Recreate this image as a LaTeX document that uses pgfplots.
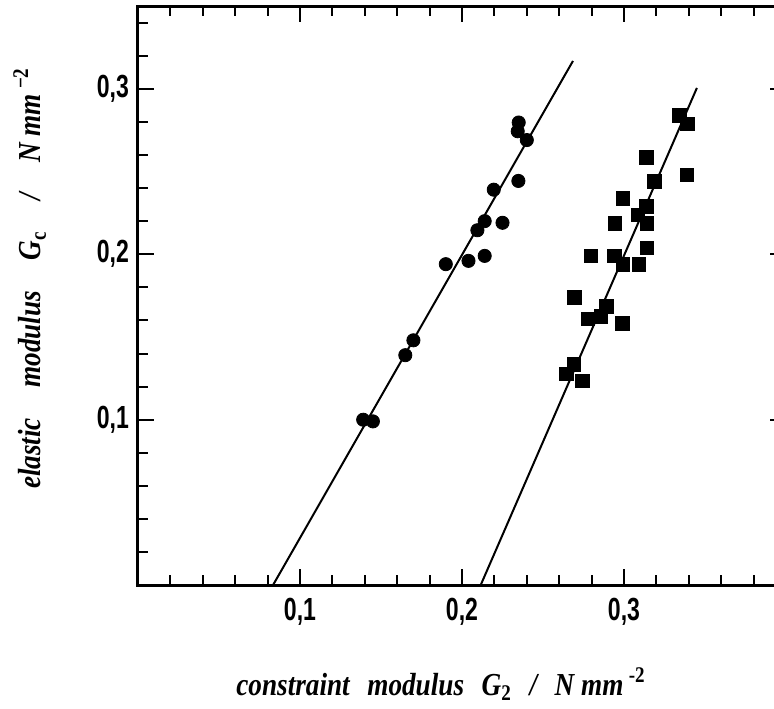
\documentclass[border=0pt]{standalone}
\usepackage{pgfplots}
\pgfplotsset{compat=1.18}
\usepackage{fontspec}
\setmainfont{Liberation Serif}
\newfontfamily\labfont[FakeStretch=0.85]{Liberation Serif}
\newfontfamily\tickfont[FakeStretch=0.72]{Liberation Sans}

\begin{document}
\begin{tikzpicture}
\begin{axis}[
  scale only axis,
  width=324pt, height=289.6pt,
  xmin=0, xmax=0.4, ymin=0, ymax=0.35,
  xtick={0.1,0.2,0.3}, ytick={0.1,0.2,0.3},
  xticklabels={{0,1},{0,2},{0,3}},
  yticklabels={{0,1},{0,2},{0,3}},
  minor xtick={0.02,0.04,...,0.39},
  minor ytick={0.02,0.04,...,0.34},
  tick align=inside,
  major tick length=8pt, minor tick length=5pt,
  tick style={line width=1pt, black},
  axis line style={line width=1.5pt},
  ticklabel style={font=\tickfont\bfseries\fontsize{16}{18}\selectfont},
  xticklabel style={yshift=-3pt},
  yticklabel style={xshift=-1pt},
  xlabel={\labfont\fontsize{16}{18}\selectfont\bfseries\itshape constraint\hspace{0.55em}modulus\hspace{0.55em}G\textsubscript{\upshape 2}\hspace{0.55em}/\hspace{0.55em}N mm\,\textsuperscript{\upshape -2}},
  ylabel={\labfont\fontsize{16}{18}\selectfont\bfseries\itshape elastic\hspace{0.95em}modulus\hspace{0.95em}G\textsubscript{\upshape c}\hspace{0.95em}/\hspace{0.95em}N mm\,\textsuperscript{\upshape −2}},
  xlabel style={at={(axis description cs:0.4676,-0.171)}, anchor=center},
  ylabel style={at={(axis description cs:-0.167,0.53)}, anchor=center},
]
% fit lines
\addplot[black, line width=1pt] coordinates {(0.0833,0) (0.2685,0.3168)};
\addplot[black, line width=1pt] coordinates {(0.2115,0) (0.345,0.3005)};
% circles
\addplot[only marks, mark=*, mark size=3.3pt, black] coordinates {
  (0.139,0.100) (0.145,0.099) (0.165,0.139) (0.170,0.148)
  (0.190,0.194) (0.204,0.196) (0.214,0.199) (0.2095,0.2145)
  (0.214,0.220) (0.225,0.219) (0.2196,0.239) (0.2348,0.2443)
  (0.235,0.2796) (0.2344,0.2743) (0.240,0.269)
};
% squares
\addplot[only marks, mark=square*, mark size=3.4pt, black] coordinates {
  (0.3342,0.284) (0.3391,0.2787) (0.314,0.2586) (0.3387,0.2479)
  (0.3187,0.2441) (0.2994,0.2338) (0.314,0.229) (0.3086,0.2238)
  (0.2944,0.2187) (0.3142,0.2185) (0.3142,0.2038) (0.2796,0.199)
  (0.294,0.199) (0.2994,0.1938) (0.3093,0.1938) (0.2693,0.174)
  (0.289,0.1684) (0.2858,0.1624) (0.2778,0.161) (0.299,0.1583)
  (0.269,0.1335) (0.2644,0.1277) (0.2743,0.1235)
};
\coordinate (ll) at (rel axis cs:0,0);
\coordinate (ur) at (rel axis cs:1,1);
\end{axis}
\pgfresetboundingbox
\path ([shift={(-69pt,-61.5pt)}]ll) rectangle ([shift={(-6pt,3pt)}]ur);
\end{tikzpicture}
\end{document}
